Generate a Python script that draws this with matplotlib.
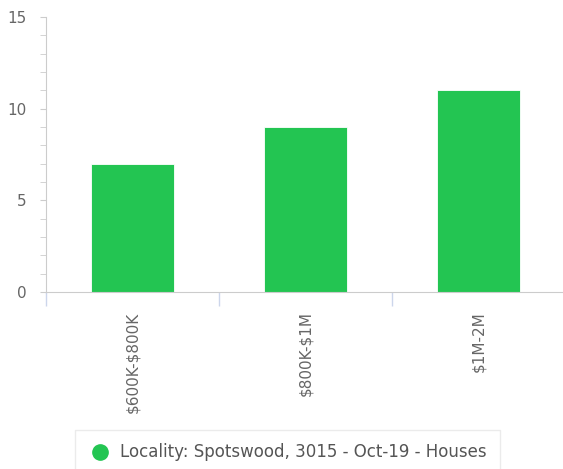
import matplotlib.pyplot as plt
from matplotlib.lines import Line2D
from matplotlib.ticker import MultipleLocator

plt.rcParams["font.family"] = ["DejaVu Sans"]
plt.rcParams["text.parse_math"] = False

# data
categories = ["$600K-$800K", "$800K-$1M", "$1M-2M"]
counts = [7, 9, 11]
series_name = "Locality: Spotswood, 3015 - Oct-19 - Houses"

green = "#23c552"
label_color = "#666666"

fig = plt.figure(figsize=(5.63, 4.69), dpi=100)
ax = fig.add_axes([46 / 563, 1 - 292 / 469, (565 - 46) / 563, (292 - 17) / 469])

x = list(range(len(categories)))
ax.bar(x, counts, width=0.475, color=green, edgecolor="white", linewidth=0.6, zorder=2)

ax.set_xlim(-0.5, len(categories) - 0.5)
ax.set_ylim(0, 15)

for side in ["top", "right"]:
    ax.spines[side].set_visible(False)
ax.spines["left"].set_color("#cccccc")
ax.spines["bottom"].set_color("#cccccc")

ax.yaxis.set_major_locator(MultipleLocator(5))
ax.yaxis.set_minor_locator(MultipleLocator(1))
ax.tick_params(axis="y", which="major", length=4, color="#cccccc", labelsize=11,
               labelcolor=label_color, pad=10)
ax.tick_params(axis="y", which="minor", length=4, color="#cccccc")

# category labels, rotated
ax.set_xticks(x)
ax.set_xticklabels(categories, rotation=90, fontsize=11, color=label_color, va="top")
ax.tick_params(axis="x", which="major", length=0, pad=14)
# category boundary ticks
ax.set_xticks([i - 0.5 for i in range(len(categories) + 1)], minor=True)
ax.tick_params(axis="x", which="minor", length=10, color="#ccd6eb", width=1)

handle = Line2D([], [], marker="o", linestyle="none", markersize=11,
                markerfacecolor=green, markeredgecolor=green)
leg = fig.legend([handle], [series_name], loc="upper center",
                 bbox_to_anchor=(0.5107, 1 - 430 / 469), frameon=True, fontsize=12,
                 handlelength=1.4, handletextpad=0.5, borderpad=0.8,
                 borderaxespad=0, fancybox=False)
leg.get_frame().set_edgecolor("#e6e6e6")
for t in leg.get_texts():
    t.set_color("#555555")

fig.savefig("out.png", dpi=100)
